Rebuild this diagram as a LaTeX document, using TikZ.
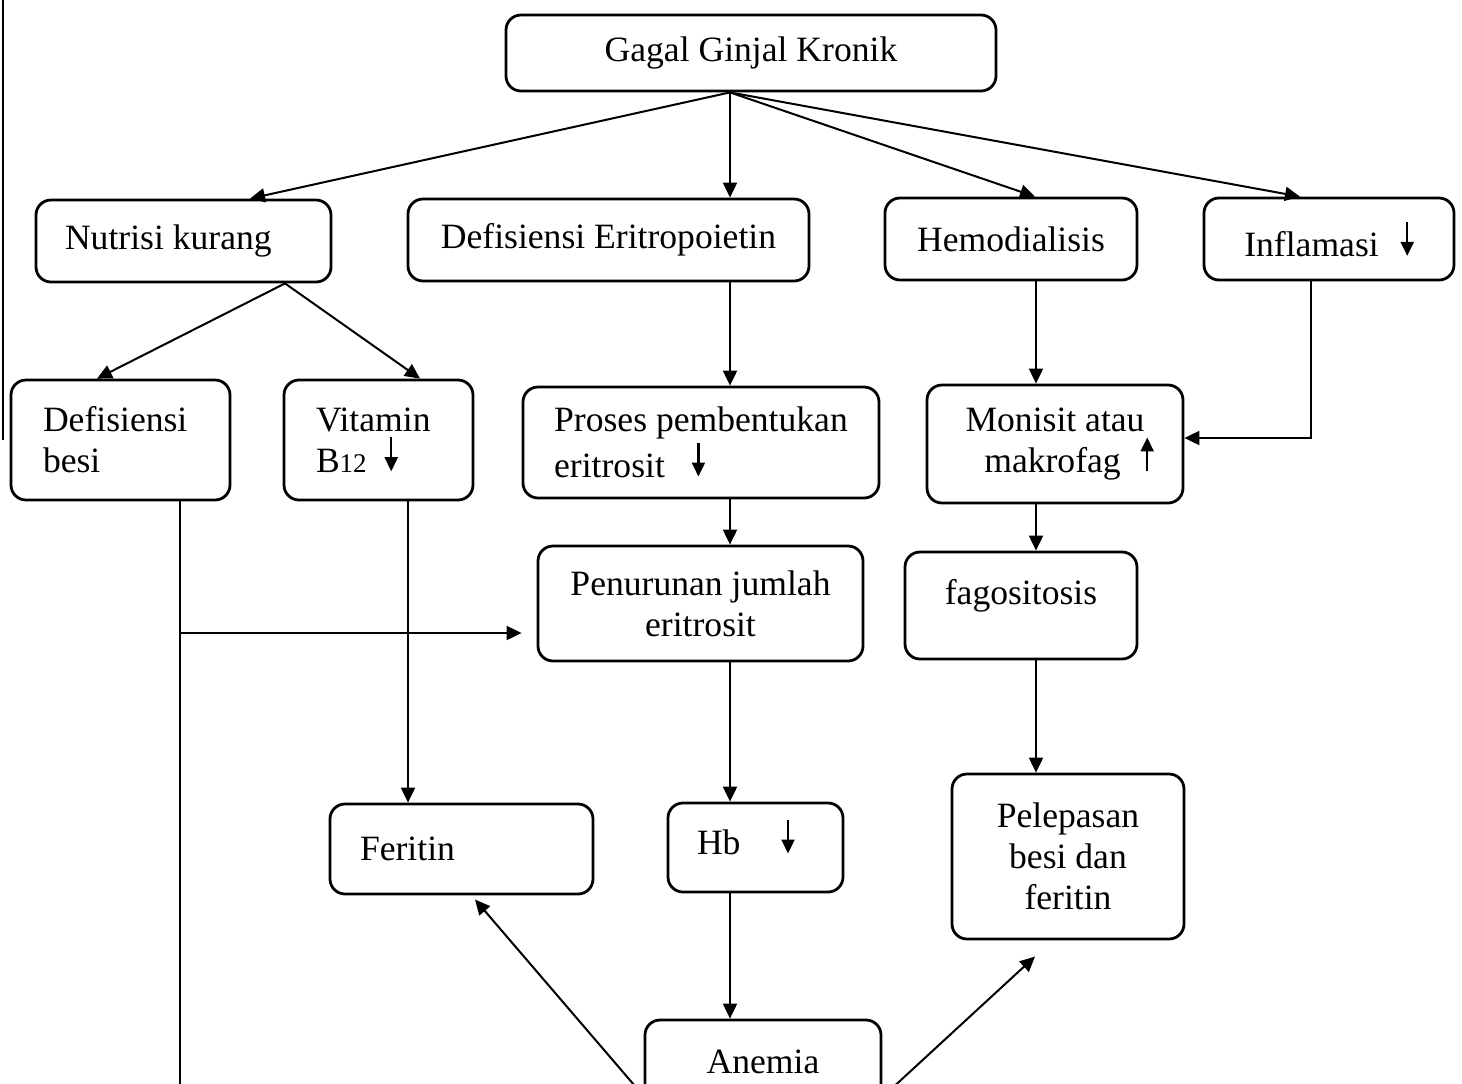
\documentclass[tikz,border=0pt]{standalone}
\usepackage{fontspec}
\setmainfont{Liberation Serif}
\usetikzlibrary{arrows.meta}

\newcommand{\turun}{\tikz[baseline=0pt]\draw[line width=1.1pt,-{Triangle[length=7pt,width=6.5pt]}] (0pt,17.5pt) -- (0pt,0.5pt);}
\newcommand{\naik}{\tikz[baseline=0pt]\draw[line width=1.1pt,-{Triangle[length=7pt,width=6.5pt]}] (0pt,0.5pt) -- (0pt,17.5pt);}

\begin{document}
\begin{tikzpicture}[x=0.5pt,y=-0.5pt,
    kotak/.style={draw,rounded corners=7.5pt,line width=1.4pt,font=\fontsize{17.8}{20.5}\selectfont,inner ysep=2pt},
    panah/.style={line width=1pt,-{Triangle[length=7.5pt,width=7pt]}}]

        \clip (0,0) rectangle (1462,1083);

        % garis tepi halaman
        \draw[line width=1pt] (3,0) -- (3,440);

        \begin{scope}[every node/.style={kotak}]
          \node[minimum width=245pt,minimum height=38pt] (1) at (751,53) {Gagal Ginjal Kronik};
          \node[text width=118.5pt,inner xsep=14.5pt,minimum height=41pt,align=left] (2) at (183.5,241) {\spaceskip=0pt Nutrisi kurang};
          \node[minimum width=200.5pt,minimum height=41pt] (3) at (608.5,240) {Defisiensi Eritropoietin};
          \node[minimum width=126pt,minimum height=41pt] (4) at (1011,239) {Hemodialisis};
          \node[minimum width=125pt,minimum height=41pt] (5) at (1329,239) {Inflamasi\hspace{11pt}\turun};
          \node[text width=77.5pt,inner xsep=16pt,minimum height=60pt,align=left] (6) at (120.5,440) {Defisiensi\\besi};
          \node[text width=62.5pt,inner xsep=16pt,minimum height=60pt,align=left] (7) at (378.5,440) {Vitamin\\B{\fontsize{13.5}{14}\selectfont 12}\hspace{9pt}\turun};
          \node[minimum width=178pt,minimum height=55.5pt,align=left] (8) at (701,442.5) {Proses pembentukan\\eritrosit\hspace{13.5pt}\turun};
          \node[minimum width=128pt,minimum height=59pt,align=center] (9) at (1055,444) {Monisit atau\\\hspace{14pt}makrofag\hspace{10pt}\naik};
          \node[minimum width=162.5pt,minimum height=57.5pt,align=center] (10) at (700.5,603.5) {Penurunan jumlah\\eritrosit};
          \node[minimum width=116pt,minimum height=53.5pt,align=center] (11) at (1021,605.5) {fagositosis\\[-7pt]\mbox{}};
          \node[text width=101.5pt,inner xsep=15pt,minimum height=45pt,align=left] (12) at (461.5,849) {Feritin};
          \node[text width=58.5pt,inner xsep=14.5pt,minimum height=44.5pt,align=left,text height=12pt,text depth=5pt] (13) at (755.5,847.5) {Hb\hspace{20.5pt}\turun};
          \node[minimum width=116pt,minimum height=82.5pt,align=center] (14) at (1068,856.5) {Pelepasan\\besi dan\\feritin};
          \node[minimum width=118pt,minimum height=42pt] (15) at (763,1062) {Anemia};
        \end{scope}

        \coordinate (cabang) at (180,633);
        \coordinate (bawah) at (180,1100);

        \begin{scope}[every edge/.style={draw,panah}]
          \path ([xshift=-10.5pt]1.south) edge ([xshift=33.25pt]2.north)
                                          edge ([xshift=60.75pt]3.north)
                                          edge ([xshift=12pt]4.north)
                                          edge ([xshift=-14.5pt]5.north);
          \path ([xshift=50.75pt]2.south) edge ([xshift=-11.75pt]6.north)
                                          edge ([xshift=20.75pt]7.north);
          \path ([xshift=60.75pt]3.south) edge ([xshift=14.5pt]8.north);
          \path ([xshift=12.5pt]4.south)  edge ([xshift=-9.5pt]9.north);
          \path ([xshift=14.5pt]8.south)  edge ([xshift=14.75pt]10.north);
          \path ([xshift=-9.5pt]9.south)  edge ([xshift=7.5pt]11.north);
          \path ([xshift=14.75pt]10.south) edge ([xshift=-12.75pt]13.north);
          \path ([xshift=7.5pt]11.south)  edge ([xshift=-16pt]14.north);
          \path ([xshift=14.75pt]7.south) edge ([xshift=-26.75pt]12.north);
          \path ([xshift=-12.75pt]13.south) edge ([xshift=-16.5pt]15.north);
          \path ([xshift=4pt]15.south west) edge[shorten >=2.7pt] ([xshift=5pt]12.south);
          \path ([xshift=-4.5pt]15.south east) edge[shorten >=11.9pt] ([xshift=-7.75pt]14.south);
        \end{scope}

        \draw[panah] ([xshift=-9pt]5.south) |- ([yshift=3pt]9.east);
        \draw[line width=1pt] ([xshift=29.75pt]6.south) -- (bawah);
        \draw[panah,shorten >=7.5pt] (cabang) -- ([yshift=-14.75pt]10.west);

      \end{tikzpicture}
\end{document}
